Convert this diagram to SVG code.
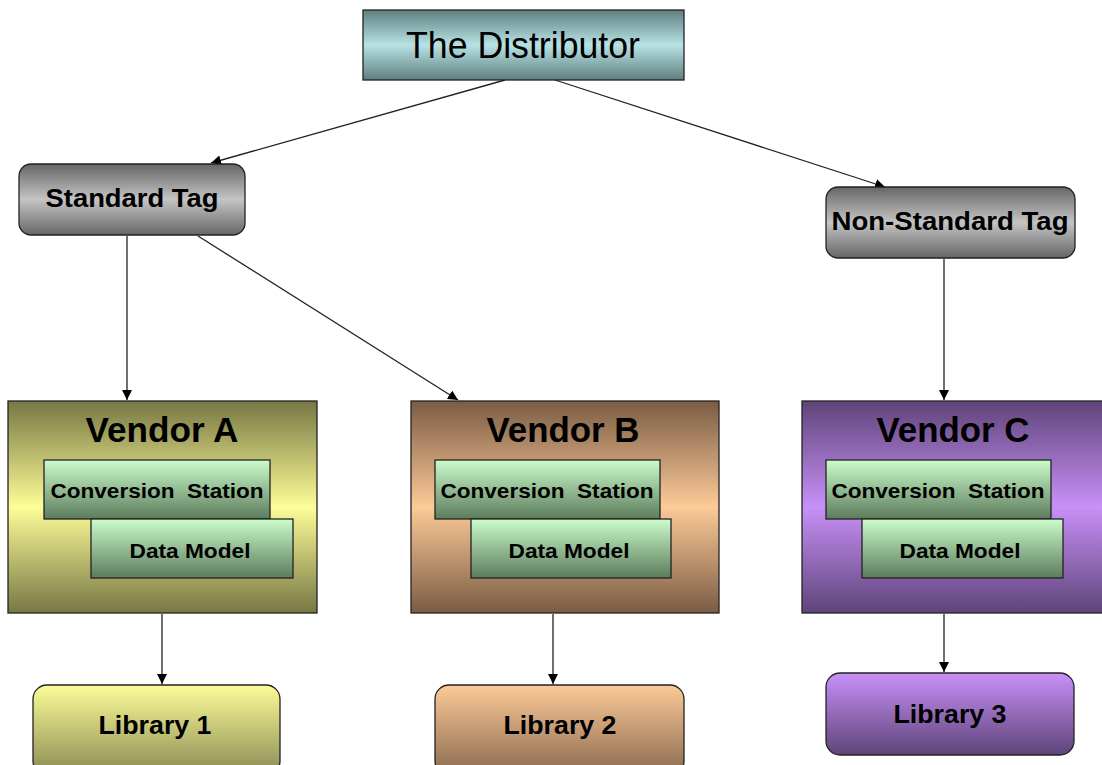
<svg xmlns="http://www.w3.org/2000/svg" width="1102" height="765" viewBox="0 0 1102 765">
<defs>
<linearGradient id="gDist" x1="0" y1="0" x2="0" y2="1">
<stop offset="0" stop-color="#5f7f80"/><stop offset="0.5" stop-color="#b8e2e4"/><stop offset="1" stop-color="#5f7f80"/>
</linearGradient>
<linearGradient id="gTag" x1="0" y1="0" x2="0" y2="1">
<stop offset="0" stop-color="#666666"/><stop offset="0.5" stop-color="#c4c4c4"/><stop offset="1" stop-color="#666666"/>
</linearGradient>
<linearGradient id="gA" x1="0" y1="0" x2="0" y2="1">
<stop offset="0" stop-color="#777744"/><stop offset="0.5" stop-color="#fdfd98"/><stop offset="1" stop-color="#777744"/>
</linearGradient>
<linearGradient id="gB" x1="0" y1="0" x2="0" y2="1">
<stop offset="0" stop-color="#7a5c44"/><stop offset="0.5" stop-color="#fdca98"/><stop offset="1" stop-color="#7a5c44"/>
</linearGradient>
<linearGradient id="gC" x1="0" y1="0" x2="0" y2="1">
<stop offset="0" stop-color="#5e4478"/><stop offset="0.5" stop-color="#c890f8"/><stop offset="1" stop-color="#5e4478"/>
</linearGradient>
<linearGradient id="gIn" x1="0" y1="0" x2="0" y2="1">
<stop offset="0" stop-color="#ccfccc"/><stop offset="1" stop-color="#5c7c5c"/>
</linearGradient>
<linearGradient id="gL1" x1="0" y1="0" x2="0" y2="1">
<stop offset="0" stop-color="#fcfc98"/><stop offset="1" stop-color="#8a8a55"/>
</linearGradient>
<linearGradient id="gL2" x1="0" y1="0" x2="0" y2="1">
<stop offset="0" stop-color="#fcca98"/><stop offset="1" stop-color="#8a6a50"/>
</linearGradient>
<linearGradient id="gL3" x1="0" y1="0" x2="0" y2="1">
<stop offset="0" stop-color="#c890f8"/><stop offset="1" stop-color="#5e4478"/>
</linearGradient>
<marker id="arr" viewBox="0 0 10 10" refX="10" refY="5" markerWidth="10" markerHeight="10" markerUnits="userSpaceOnUse" orient="auto">
<path d="M0,0 L10,5 L0,10 z" fill="#000"/>
</marker>
<style>
.box{stroke:#222;stroke-width:1.3}
.t{font-family:"Liberation Sans",Arial,sans-serif;font-weight:bold;fill:#000;text-anchor:middle;dominant-baseline:central}
.tag{font-size:26px}
.ven{font-size:35px}
.in{font-size:21px}
.lib{font-size:26px}
.c{stroke:#222;stroke-width:1.3;fill:none;marker-end:url(#arr)}
</style>
</defs>

<g id="connectors">
<line class="c" x1="505" y1="80" x2="211" y2="163"/>
<line class="c" x1="555" y1="80" x2="885" y2="187"/>
<line class="c" x1="127" y1="236" x2="127" y2="400"/>
<line class="c" x1="198" y1="236" x2="458" y2="400"/>
<line class="c" x1="944" y1="259" x2="944" y2="400"/>
<line class="c" x1="162" y1="614" x2="162" y2="684"/>
<line class="c" x1="553" y1="614" x2="553" y2="684"/>
<line class="c" x1="944" y1="614" x2="944" y2="672"/>
</g>

<g id="distributor">
<rect class="box" x="363" y="10" width="321" height="70" fill="url(#gDist)"/>
<text x="523" y="45" font-family="Liberation Sans,Arial,sans-serif" font-size="36" text-anchor="middle" dominant-baseline="central" fill="#000" textLength="234" lengthAdjust="spacingAndGlyphs">The Distributor</text>
</g>

<g id="standard-tag">
<rect class="box" x="19" y="164" width="226" height="71" rx="12" fill="url(#gTag)"/>
<text class="t tag" x="132" y="198" textLength="173" lengthAdjust="spacingAndGlyphs">Standard Tag</text>
</g>

<g id="non-standard-tag">
<rect class="box" x="826" y="187" width="249" height="71" rx="12" fill="url(#gTag)"/>
<text class="t tag" x="950" y="221" textLength="237" lengthAdjust="spacingAndGlyphs">Non-Standard Tag</text>
</g>

<g id="vendor-a">
<rect class="box" x="8" y="401" width="309" height="212" fill="url(#gA)"/>
<text class="t ven" x="162" y="429" textLength="153" lengthAdjust="spacingAndGlyphs">Vendor A</text>
<rect class="box" x="44" y="460" width="226" height="59" fill="url(#gIn)"/>
<text class="t in" x="157" y="490" xml:space="preserve" textLength="213" lengthAdjust="spacingAndGlyphs">Conversion  Station</text>
<rect class="box" x="91" y="519" width="202" height="59" fill="url(#gIn)"/>
<text class="t in" x="190" y="550" textLength="121" lengthAdjust="spacingAndGlyphs">Data Model</text>
</g>

<g id="vendor-b">
<rect class="box" x="411" y="401" width="308" height="212" fill="url(#gB)"/>
<text class="t ven" x="563" y="429" textLength="153" lengthAdjust="spacingAndGlyphs">Vendor B</text>
<rect class="box" x="435" y="460" width="225" height="59" fill="url(#gIn)"/>
<text class="t in" x="547" y="490" xml:space="preserve" textLength="213" lengthAdjust="spacingAndGlyphs">Conversion  Station</text>
<rect class="box" x="471" y="519" width="200" height="59" fill="url(#gIn)"/>
<text class="t in" x="569" y="550" textLength="121" lengthAdjust="spacingAndGlyphs">Data Model</text>
</g>

<g id="vendor-c">
<rect class="box" x="802" y="401" width="302" height="212" fill="url(#gC)"/>
<text class="t ven" x="953" y="429" textLength="153" lengthAdjust="spacingAndGlyphs">Vendor C</text>
<rect class="box" x="826" y="460" width="225" height="59" fill="url(#gIn)"/>
<text class="t in" x="938" y="490" xml:space="preserve" textLength="213" lengthAdjust="spacingAndGlyphs">Conversion  Station</text>
<rect class="box" x="862" y="519" width="201" height="59" fill="url(#gIn)"/>
<text class="t in" x="960" y="550" textLength="121" lengthAdjust="spacingAndGlyphs">Data Model</text>
</g>

<g id="library-1">
<rect class="box" x="33" y="685" width="247" height="90" rx="14" fill="url(#gL1)"/>
<text class="t lib" x="155" y="725" textLength="113" lengthAdjust="spacingAndGlyphs">Library 1</text>
</g>

<g id="library-2">
<rect class="box" x="435" y="685" width="249" height="90" rx="14" fill="url(#gL2)"/>
<text class="t lib" x="560" y="725" textLength="113" lengthAdjust="spacingAndGlyphs">Library 2</text>
</g>

<g id="library-3">
<rect class="box" x="826" y="673" width="248" height="82" rx="14" fill="url(#gL3)"/>
<text class="t lib" x="950" y="714" textLength="113" lengthAdjust="spacingAndGlyphs">Library 3</text>
</g>
</svg>
